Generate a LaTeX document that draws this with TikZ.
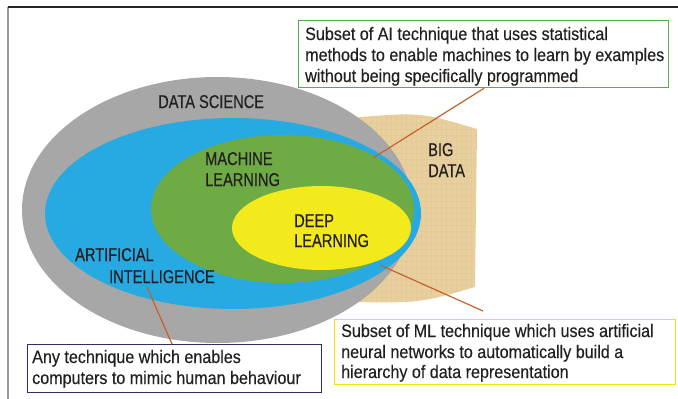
\documentclass[tikz,border=0pt]{standalone}
\usetikzlibrary{calc}
\usepackage{fontspec}
\setmainfont{Liberation Sans}
\newfontfamily\lblfont[FakeStretch=0.79,FakeBold=0.4]{Liberation Sans}
\newfontfamily\boxfont[FakeStretch=0.895,FakeBold=0.3]{Liberation Sans}
\definecolor{dsgray}{HTML}{A7A7A7}
\definecolor{aiblue}{HTML}{27AAE1}
\definecolor{mlgreen}{HTML}{6EAB45}
\definecolor{dlyellow}{HTML}{F2EA1A}
\definecolor{bigtan}{HTML}{E8D09E}
\definecolor{tanline}{HTML}{C9A870}
\definecolor{txt}{HTML}{231F20}
\definecolor{linkc}{HTML}{C5622B}
\definecolor{gboxc}{HTML}{4CB050}
\definecolor{yboxc}{HTML}{F2E600}
\definecolor{nboxc}{HTML}{2E2F66}
\begin{document}
\begin{tikzpicture}[x=1pt,y=-1pt,
  lab/.style={anchor=base west,inner sep=0pt,text=txt,font=\lblfont\fontsize{18.5}{21}\selectfont},
  ln/.style={anchor=base west,inner sep=0pt,text=txt,font=\boxfont\fontsize{18}{21}\selectfont},
  callout/.style={draw=#1,line width=1.3pt,fill=white,anchor=north west,inner sep=0pt},
  link/.style={draw=linkc,line width=1.2pt}]
\useasboundingbox (0,0) rectangle (678,399);
% frame
\draw[line width=2pt,draw=gray!80] (8,7) -- (8,399);
\draw[line width=1.3pt,draw=black!85] (8,7) -- (678,7);
% big data
\path[fill=bigtan] (350,118) .. controls (420,112) .. (477,129) -- (475,287) .. controls (420,303) .. (350,302) -- cycle;
\begin{scope}
\clip (350,118) .. controls (420,112) .. (477,129) -- (475,287) .. controls (420,303) .. (350,302) -- cycle;
\foreach \xx in {351,356,...,480} \draw[tanline,line width=0.5pt,opacity=0.15] (\xx,100) -- (\xx,310);
\foreach \yy in {111,117,...,306} \draw[tanline,line width=0.5pt,opacity=0.12] (340,\yy) -- (480,\yy);
\end{scope}
% ellipses
\fill[dsgray] (217.5,210) ellipse [x radius=195.5, y radius=133];
\fill[aiblue] (233,213.5) ellipse [x radius=188, y radius=95.5];
\fill[mlgreen] (282.5,209) ellipse [x radius=131.5, y radius=74];
\fill[dlyellow] (321.5,228) ellipse [x radius=89.5, y radius=42];
% labels
\node[lab] (ds) at (158,108) {DATA SCIENCE};
\node[lab] (ml1) at (205,165) {MACHINE};
\node[lab] (ml2) at (205,186) {LEARNING};
\node[lab] (dl1) at (294,227) {DEEP};
\node[lab] (dl2) at (294,247) {LEARNING};
\node[lab] (ai1) at (75,261) {ARTIFICIAL};
\node[lab] (ai2) at (109,283) {INTELLIGENCE};
\node[lab] (bd1) at (428,156) {BIG};
\node[lab] (bd2) at (428,177) {DATA};
% callout boxes
\node[callout=gboxc,minimum width=370pt,minimum height=67pt] (gbox) at (298,20) {};
\node[callout=yboxc,minimum width=341pt,minimum height=65pt] (ybox) at (334,319) {};
\node[callout=nboxc,minimum width=294pt,minimum height=48pt] (nbox) at (27,344) {};
\node[ln] (g1) at (305,40) {Subset of AI technique that uses statistical};
\node[ln] (g2) at (305,61) {methods to enable machines to learn by examples};
\node[ln] (g3) at (305,82) {without being specifically programmed};
\node[ln] (y1) at (341,337) {Subset of ML technique which uses artificial};
\node[ln] (y2) at (341,358) {neural networks to automatically build a};
\node[ln] (y3) at (341,378) {hierarchy of data representation};
\node[ln] (n1) at (32,363) {Any technique which enables};
\node[ln] (n2) at (32,384) {computers to mimic human behaviour};
% connectors
\coordinate (mlpt) at (373,158);
\coordinate (dlpt) at (380,265);
\coordinate (ylink) at (483,311);
\coordinate (aipt) at (147,287);
\draw[link] ($(gbox.south west)+(186,0)$) -- (mlpt);
\draw[link] (dlpt) -- (ylink);
\draw[link] (aipt) -- ($(nbox.north west)+(145,0)$);
\end{tikzpicture}
\end{document}
